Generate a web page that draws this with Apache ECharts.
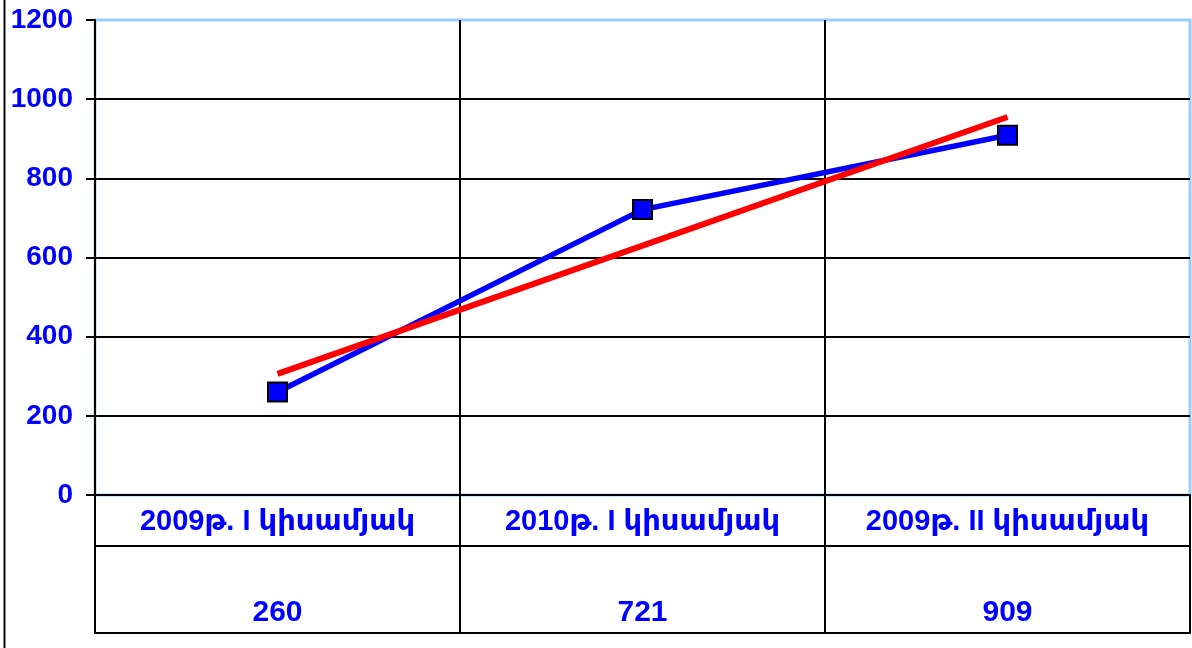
<!DOCTYPE html>
<html>
<head>
<meta charset="utf-8">
<script src="https://cdn.jsdelivr.net/npm/echarts@6/dist/echarts.min.js"></script>
<style>
html, body { margin: 0; padding: 0; background: #fff; }
#chart { width: 1192px; height: 648px; }
</style>
</head>
<body>
<div id="chart"></div>
<script>
// data
var categories = ['2009թ. I կիսամյակ', '2010թ. I կիսամյակ', '2009թ. II կիսամյակ'];
var values = [260, 721, 909];
var trendValues = [306, 630, 955];
var tableValues = ['260', '721', '909'];

var blue = '#0000ff';
var font = '"Liberation Sans", Arial, "DejaVu Sans", sans-serif';

var chart = echarts.init(document.getElementById('chart'));
var option;

option = {
	backgroundColor: '#fff',
	animation: false,
	grid: {
		left: 95,
		right: 2,
		top: 20,
		bottom: 153,
		show: true,
		borderColor: '#99ccff',
		borderWidth: 3
	},
	xAxis: [
		{
			type: 'category',
			data: categories,
			boundaryGap: true,
			axisLine: { show: true, lineStyle: { color: '#000', width: 2 } },
			axisTick: { show: true, interval: 0, length: 138, lineStyle: { color: '#000', width: 2 } },
			axisLabel: { interval: 0, color: blue, fontFamily: font, fontWeight: 'bold', fontSize: 29, margin: 12 },
			splitLine: { show: true, interval: 0, showMinLine: false, showMaxLine: false, lineStyle: { color: '#000', width: 2 } }
		},
		{
			type: 'category',
			data: categories,
			position: 'bottom',
			offset: 51,
			axisLine: { show: true, lineStyle: { color: '#000', width: 2 } },
			axisTick: { show: false },
			axisLabel: { show: false }
		},
		{
			type: 'category',
			data: categories,
			position: 'bottom',
			offset: 138,
			axisLine: { show: true, lineStyle: { color: '#000', width: 2 } },
			axisTick: { show: false },
			axisLabel: {
				interval: 0,
				inside: true,
				margin: 5,
				color: blue, fontFamily: font, fontWeight: 'bold', fontSize: 30,
				formatter: function (v, i) { return tableValues[i]; }
			}
		}
	],
	yAxis: {
		type: 'value',
		min: 0,
		max: 1200,
		interval: 200,
		axisLine: { show: true, lineStyle: { color: '#000', width: 2 } },
		axisTick: { show: true, length: 9, lineStyle: { color: '#000', width: 2 } },
		axisLabel: {
			color: blue, fontFamily: font, fontWeight: 'bold', fontSize: 28, margin: 22,
			formatter: function (v) { return String(v); }
		},
		splitLine: { show: true, showMinLine: false, showMaxLine: false, lineStyle: { color: '#000', width: 2 } }
	},
	series: [
		{
			name: 'values',
			type: 'line',
			data: values,
			symbol: 'rect',
			symbolSize: 19,
			lineStyle: { color: blue, width: 5.5 },
			itemStyle: { color: blue, borderColor: '#000', borderWidth: 2 },
			z: 3
		},
		{
			name: 'trend',
			type: 'line',
			data: trendValues,
			symbol: 'none',
			lineStyle: { color: '#ff0000', width: 6 },
			z: 4
		}
	],
	graphic: [
		{
			type: 'line',
			shape: { x1: 4.5, y1: 0, x2: 4.5, y2: 648 },
			style: { stroke: '#000', lineWidth: 2 }
		}
	]
};

chart.setOption(option);
</script>
</body>
</html>
